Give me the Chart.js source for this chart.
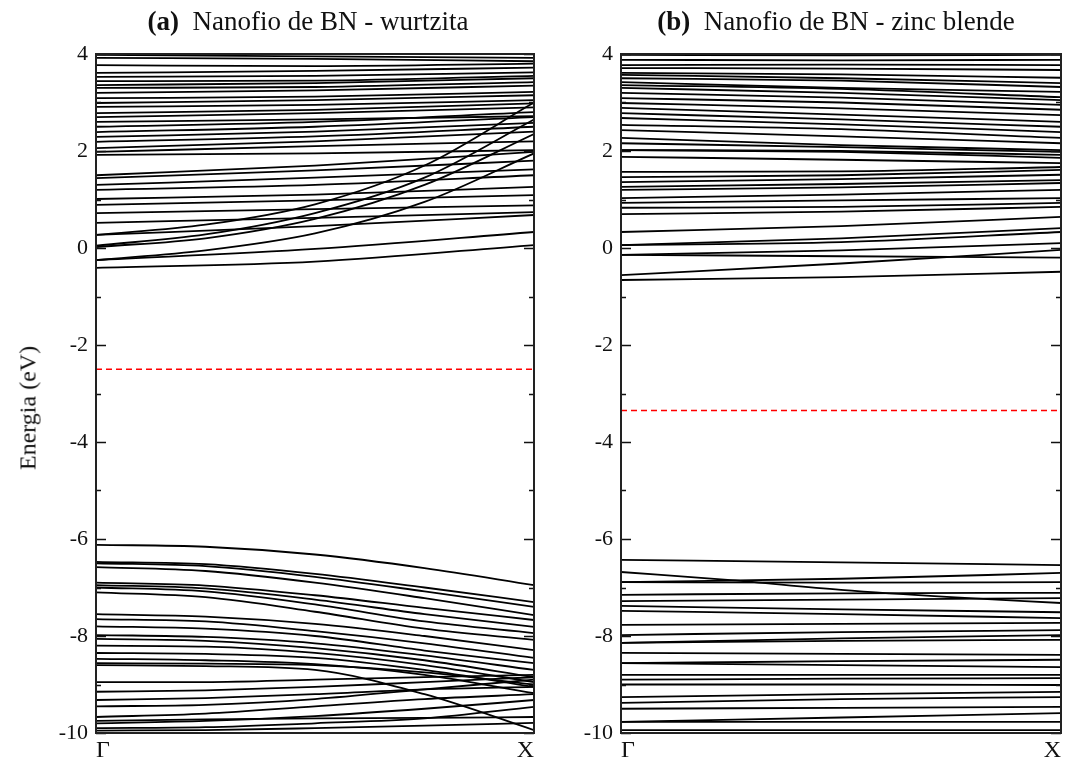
<!DOCTYPE html>
<html lang="es">
<head>
<meta charset="UTF-8">
<title>Nanofio de BN - estructura de bandas</title>
<script src="https://cdn.jsdelivr.net/npm/chart.js"></script>
<style>
    body { margin: 0; background: #fff; }
    .wrap { position: relative; width: 1073px; height: 765px; }
    .panel { position: absolute; top: 0; height: 765px; }
    #panelA { left: 0; width: 545px; }
    #panelB { left: 545px; width: 528px; }
    .title {
        position: absolute; top: 6px;
        font-family: 'Liberation Serif', 'DejaVu Serif', serif;
        font-size: 27px; color: #111; white-space: nowrap;
        transform: translateX(-50%);
    }
    .ylabel {
        position: absolute; left: 28px; top: 408px;
        font-family: 'Liberation Serif', 'DejaVu Serif', serif;
        font-size: 24px; color: #111; white-space: nowrap;
        transform: translate(-50%, -50%) rotate(-90deg);
    }
</style>
</head>
<body>
<div class="wrap">
    <div class="panel" id="panelA"><canvas id="chartA" width="545" height="765"></canvas></div>
    <div class="panel" id="panelB"><canvas id="chartB" width="528" height="765"></canvas></div>
    <div class="title" style="left:308px"><b>(a)</b>&nbsp; Nanofio de BN - wurtzita</div>
    <div class="title" style="left:836px"><b>(b)</b>&nbsp; Nanofio de BN - zinc blende</div>
    <div class="ylabel">Energia (eV)</div>
</div>

<script>
// k-points along Gamma -> X (3-point and 5-point bands)
const kCoarse = [0, 0.5, 1];
const kFine = [0, 0.25, 0.5, 0.75, 1];
const kLabels = ['Γ', 'X'];
const yTicks = [-10, -8, -6, -4, -2, 0, 2, 4];

// Fermi levels (eV)
const fermiA = -2.5;
const fermiB = -3.35;

// (a) wurtzita - conduction bands, energies in eV at the k-points
const condA = [
    [-0.41, -0.28, 0.06],
    [-0.25, -0.02, 0.33],
    [-0.25, -0.05, 0.3, 0.95, 1.95],
    [0.02, 0.2, 0.6, 1.3, 2.35],
    [0.05, 0.28, 0.72, 1.45, 2.65],
    [0.27, 0.48, 0.9, 1.7, 3.0],
    [0.27, 0.45, 0.68],
    [0.52, 0.62, 0.74],
    [0.72, 0.8, 0.88],
    [0.89, 0.98, 1.09],
    [1.01, 1.1, 1.26],
    [1.2, 1.3, 1.5],
    [1.3, 1.45, 1.62],
    [1.44, 1.6, 1.8],
    [1.5, 1.7, 1.98],
    [1.92, 1.95, 2.02],
    [1.98, 2.1, 2.2],
    [2.06, 2.2, 2.4],
    [2.19, 2.3, 2.5],
    [2.29, 2.4, 2.58],
    [2.39, 2.5, 2.7],
    [2.5, 2.6, 2.8],
    [2.6, 2.65, 2.72],
    [2.7, 2.78, 2.9],
    [2.78, 2.85, 2.98],
    [2.91, 2.95, 3.05],
    [2.99, 3.05, 3.15],
    [3.09, 3.12, 3.22],
    [3.2, 3.25, 3.35],
    [3.3, 3.32, 3.42],
    [3.36, 3.4, 3.5],
    [3.44, 3.45, 3.55],
    [3.53, 3.55, 3.62],
    [3.61, 3.65, 3.72],
    [3.77, 3.75, 3.8],
    [3.92, 3.9, 3.85],
    [3.98, 3.95, 3.92]
];

// (a) wurtzita - valence bands
const valA = [
    [-6.12, -6.16, -6.32, -6.6, -6.95],
    [-6.47, -6.52, -6.72, -7.0, -7.3],
    [-6.5, -6.56, -6.78, -7.08, -7.4],
    [-6.58, -6.66, -6.9, -7.22, -7.57],
    [-6.9, -6.96, -7.16, -7.42, -7.67],
    [-6.95, -7.02, -7.25, -7.55, -7.81],
    [-7.0, -7.08, -7.35, -7.7, -7.94],
    [-7.1, -7.2, -7.5, -7.85, -8.08],
    [-7.55, -7.6, -7.75, -8.0, -8.29],
    [-7.65, -7.7, -7.9, -8.15, -8.45],
    [-7.8, -7.85, -8.0, -8.3, -8.56],
    [-7.98, -8.02, -8.15, -8.4, -8.7],
    [-8.06, -8.1, -8.25, -8.5, -8.85],
    [-8.2, -8.22, -8.35, -8.6, -8.95],
    [-8.35, -8.37, -8.45, -8.7, -9.05],
    [-8.47, -8.5, -8.58, -8.8, -9.18],
    [-8.56, -8.57, -8.6, -8.75, -9.0],
    [-8.6, -8.62, -8.7, -9.2, -9.94],
    [-8.95, -8.95, -8.9, -8.85, -8.8],
    [-9.15, -9.12, -9.05, -8.95, -8.85],
    [-9.32, -9.28, -9.2, -9.1, -9.05],
    [-9.45, -9.42, -9.3, -9.1, -8.9],
    [-9.67, -9.6, -9.45, -9.3, -9.2],
    [-9.8, -9.75, -9.65, -9.5, -9.32],
    [-9.9, -9.88, -9.8, -9.7, -9.46],
    [-9.95, -9.94, -9.9, -9.85, -9.79],
    [-9.75, -9.72, -9.7, -9.69, -9.67]
];

// (b) zinc blende - conduction bands
const condB = [
    [-0.66, -0.6, -0.49],
    [-0.56, -0.32, -0.04],
    [-0.14, -0.17, -0.2],
    [-0.14, -0.05, 0.1],
    [0.06, 0.2, 0.41],
    [0.06, 0.12, 0.33],
    [0.33, 0.45, 0.64],
    [0.7, 0.75, 0.85],
    [0.83, 0.85, 0.93],
    [0.93, 0.98, 1.03],
    [1.03, 1.1, 1.2],
    [1.2, 1.25, 1.34],
    [1.26, 1.32, 1.4],
    [1.36, 1.42, 1.51],
    [1.46, 1.5, 1.61],
    [1.57, 1.58, 1.67],
    [1.88, 1.82, 1.75],
    [2.02, 1.98, 1.86],
    [2.02, 2.0, 1.92],
    [2.16, 2.08, 1.98],
    [2.27, 2.12, 2.02],
    [2.43, 2.3, 2.16],
    [2.54, 2.45, 2.27],
    [2.68, 2.55, 2.39],
    [2.78, 2.65, 2.5],
    [2.89, 2.75, 2.6],
    [2.99, 2.88, 2.74],
    [3.09, 3.0, 2.85],
    [3.2, 3.1, 2.95],
    [3.3, 3.2, 3.05],
    [3.36, 3.28, 3.11],
    [3.42, 3.3, 3.22],
    [3.5, 3.45, 3.32],
    [3.57, 3.5, 3.4],
    [3.61, 3.58, 3.51],
    [3.71, 3.7, 3.67],
    [3.77, 3.78, 3.77],
    [3.88, 3.87, 3.88],
    [3.98, 3.97, 3.98]
];

// (b) zinc blende - valence bands
const valB = [
    [-6.43, -6.48, -6.54],
    [-6.68, -6.85, -7.05, -7.2, -7.32],
    [-6.89, -6.82, -6.7],
    [-6.89, -6.9, -6.89],
    [-7.15, -7.12, -7.11],
    [-7.28, -7.25, -7.22],
    [-7.38, -7.45, -7.51],
    [-7.48, -7.55, -7.63],
    [-7.77, -7.75, -7.73],
    [-7.98, -7.92, -7.88],
    [-8.14, -8.05, -7.98],
    [-8.14, -8.1, -8.08],
    [-8.35, -8.37, -8.39],
    [-8.56, -8.52, -8.49],
    [-8.56, -8.6, -8.64],
    [-8.8, -8.8, -8.8],
    [-8.9, -8.88, -8.87],
    [-9.0, -9.0, -9.01],
    [-9.26, -9.2, -9.15],
    [-9.38, -9.3, -9.26],
    [-9.5, -9.48, -9.46],
    [-9.77, -9.68, -9.59],
    [-9.77, -9.77, -9.77],
    [-9.94, -9.94, -9.94]
];

const serif = "'Liberation Serif', 'DejaVu Serif', serif";

function bandDatasets(bands) {
    return bands.map(b => {
        const ks = b.length === 5 ? kFine : kCoarse;
        return {
            data: b.map((e, i) => ({ x: ks[i], y: e })),
            borderColor: '#000',
            borderWidth: 1.8,
            pointRadius: 0,
            cubicInterpolationMode: 'monotone',
            fill: false
        };
    });
}

function fermiDataset(ef) {
    return {
        data: [{ x: kCoarse[0], y: ef }, { x: kCoarse[2], y: ef }],
        borderColor: '#ff0000',
        borderWidth: 1.5,
        borderDash: [6, 4],
        pointRadius: 0
    };
}

// frame + inward ticks like xmgrace
const framePlugin = {
    id: 'frame',
    afterDraw(chart) {
        const { ctx, chartArea: a } = chart;
        const ys = chart.scales.y;
        ctx.save();
        ctx.strokeStyle = '#111';
        ctx.lineWidth = 1.5;
        for (let v = -10; v <= 4; v++) {
            const py = Math.round(ys.getPixelForValue(v)) + 0.5;
            const len = v % 2 === 0 ? 10 : 5;
            ctx.beginPath();
            ctx.moveTo(a.left, py); ctx.lineTo(a.left + len, py);
            ctx.moveTo(a.right, py); ctx.lineTo(a.right - len, py);
            ctx.stroke();
        }
        ctx.lineWidth = 2;
        ctx.strokeStyle = '#222';
        ctx.strokeRect(a.left, a.top, a.right - a.left, a.bottom - a.top);
        ctx.restore();
    }
};

function makeChart(id, bands, ef, axisW, padRight) {
    new Chart(document.getElementById(id), {
        type: 'line',
        data: { datasets: [...bandDatasets(bands), fermiDataset(ef)] },
        options: {
            responsive: false,
            animation: false,
            layout: { padding: { top: 54, right: padRight, bottom: 0, left: 0 } },
            plugins: { legend: { display: false }, tooltip: { enabled: false } },
            scales: {
                x: {
                    type: 'linear', min: 0, max: 1,
                    grid: { display: false, drawTicks: false },
                    border: { display: false },
                    afterBuildTicks: s => { s.ticks = [{ value: 0 }, { value: 1 }]; },
                    afterFit: s => { s.height = 32; },
                    ticks: {
                        align: 'inner', padding: 3, color: '#111',
                        font: { family: serif, size: 24 },
                        callback: v => v === 0 ? kLabels[0] : kLabels[1]
                    }
                },
                y: {
                    min: -10, max: 4,
                    grid: { display: false, drawTicks: false },
                    border: { display: false },
                    afterBuildTicks: s => { s.ticks = yTicks.map(v => ({ value: v })); },
                    afterFit: s => { s.width = axisW; },
                    ticks: { padding: 8, color: '#111', font: { family: serif, size: 22 } }
                }
            }
        },
        plugins: [framePlugin]
    });
}

makeChart('chartA', [...condA, ...valA], fermiA, 96, 11);
makeChart('chartB', [...condB, ...valB], fermiB, 76, 12);
</script>
</body>
</html>
